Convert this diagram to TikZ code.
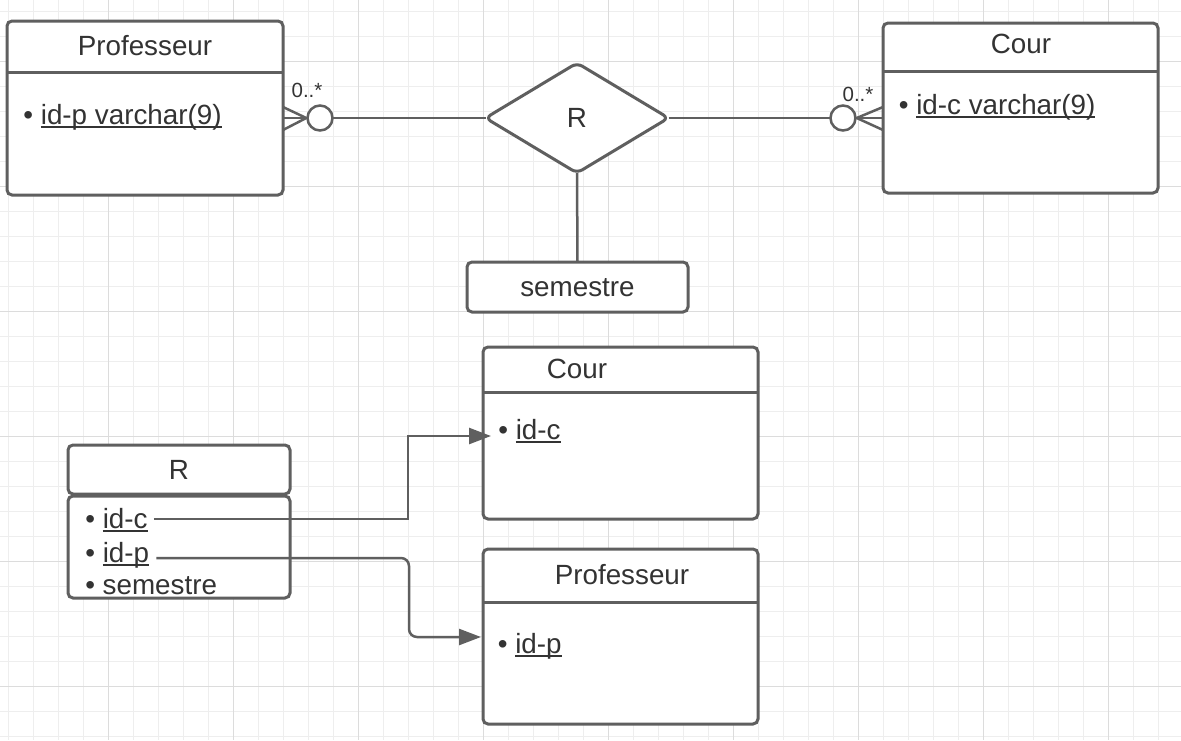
\documentclass[tikz,border=0pt]{standalone}
\usepackage{fontspec}
\setmainfont{Liberation Sans}
\usetikzlibrary{shapes.geometric,arrows.meta}

\definecolor{gridminor}{HTML}{EEEEEE}
\definecolor{gridmajor}{HTML}{DCDCDC}
\definecolor{linegray}{HTML}{5F5F5F}
\definecolor{textgray}{HTML}{333333}

% underlined key attribute
\newcommand*\keyline[1]{\setbox0\hbox{#1}\rlap{\rule[-3.5pt]{\wd0}{1.8pt}}\box0}

\tikzset{
  entity/.style={draw=linegray, line width=3pt, rounded corners=5pt, fill=white,
    inner sep=0pt, outer sep=0pt},
  txt/.style={text=textgray, inner sep=0pt, text height=19.5pt, text depth=0pt,
    font=\fontsize{27.8pt}{33pt}\selectfont},
  row/.style={txt, anchor=west},
  card/.style={text=textgray, inner sep=0pt, font=\fontsize{20.5pt}{24pt}\selectfont},
  link/.style={draw=linegray, line width=2.5pt},
  ring/.style={circle, draw=linegray, line width=2.5pt, fill=white,
    minimum size=25pt, inner sep=0pt},
  fk/.style={link, -{Triangle[length=22pt,width=16pt]}},
}

\begin{document}
\begin{tikzpicture}[x=1pt, y=-1pt]
				% Background grid
				\fill[white] (0,0) rectangle (1181,740);
				\useasboundingbox (0,0) rectangle (1181,740);
				\foreach \i in {0,...,47}
					\draw[gridminor, line width=1pt] ({8.3+25*\i},0) -- ({8.3+25*\i},740);
				\foreach \i in {0,...,29}
					\draw[gridminor, line width=1pt] (0,{11+25*\i}) -- (1181,{11+25*\i});
				\foreach \i in {0,...,8}
					\draw[gridmajor, line width=1pt] ({108.3+125*\i},0) -- ({108.3+125*\i},740);
				\foreach \i in {0,...,5}
					\draw[gridmajor, line width=1pt] (0,{61+125*\i}) -- (1181,{61+125*\i});

				% Conceptual model
				\node[entity, minimum width=276pt, minimum height=174pt] (prof) at (145,108) {};
				\draw[linegray, line width=3pt] (prof.west |- 0,72) -- (prof.east |- 0,72);
				\node[txt] (prof-t) at (145,46) {Professeur};
				\node[row] (prof-a) at (23.2,115) {• \keyline{id-p varchar(9)}};

				\node[entity, minimum width=275pt, minimum height=170pt] (cour) at (1020.5,108) {};
				\draw[linegray, line width=3pt] (cour.west |- 0,71) -- (cour.east |- 0,71);
				\node[txt] (cour-t) at (1021,44) {Cour};
				\node[row] (cour-a) at (898.6,105) {• \keyline{id-c varchar(9)}};

				\node[diamond, draw=linegray, line width=3pt, rounded corners=6pt, fill=white,
					minimum width=183pt, minimum height=110pt, outer sep=0pt, txt] (rel) at (577,118) {R};

				\node[entity, minimum width=221pt, minimum height=50pt, txt] (sem) at (577.5,287) {semestre};

				% Relations
				\coordinate (pf) at (prof.east |- rel.west);
				\coordinate (cf) at (cour.west |- rel.east);
				\draw[link] (pf) -- (rel.west);
				\draw[link] (rel.east) -- (cf);
				\draw[link] (rel.south) -- (sem.north);
				\node[ring] (o1) at (320,118) {};
				\node[ring] (o2) at (843,118) {};
				\draw[link] ([yshift=11pt]pf) -- (o1.west) -- ([yshift=-12pt]pf);
				\draw[link] (o1.west) -- (pf);
				\draw[link] ([yshift=11pt]cf) -- (o2.east) -- ([yshift=-12pt]cf);
				\draw[link] (o2.east) -- (cf);
				\node[card] (m1) at (307,90) {0..*};
				\node[card] (m2) at (858,94) {0..*};

				% Logical model
				\node[entity, minimum width=275pt, minimum height=172pt] (cour2) at (620.5,433) {};
				\draw[linegray, line width=3pt] (cour2.west |- 0,392) -- (cour2.east |- 0,392);
				\node[txt] (cour2-t) at (577,369) {Cour};
				\node[row] (cour2-a) at (498.1,430) {• \keyline{id-c}};

				\node[entity, minimum width=275pt, minimum height=175pt] (prof2) at (620.5,636.5) {};
				\draw[linegray, line width=3pt] (prof2.west |- 0,602) -- (prof2.east |- 0,602);
				\node[txt] (prof2-t) at (622,575) {Professeur};
				\node[row] (prof2-a) at (497.6,644) {• \keyline{id-p}};

				\node[entity, minimum width=222pt, minimum height=49pt, txt] (rhead) at (179,469.5) {R};
				\node[entity, minimum width=222pt, minimum height=102pt] (rbody) at (179,547) {};
				\node[row] (rc) at (85.1,519) {• \keyline{id-c}};
				\node[row] (rp) at (85.1,553) {• \keyline{id-p}};
				\node[row] (rs) at (85.1,585) {• semestre};

				% Foreign keys
				\coordinate (cin) at (491,436);
				\coordinate (pin) at (481,637);
				\draw[fk] ([xshift=6pt]rc.east) -| (408,436) -- (cin);
				\draw[fk] ([shift={(7,5)}]rp.east) [rounded corners=8pt] -| (409,637) [sharp corners] -- (pin);
\end{tikzpicture}
\end{document}
